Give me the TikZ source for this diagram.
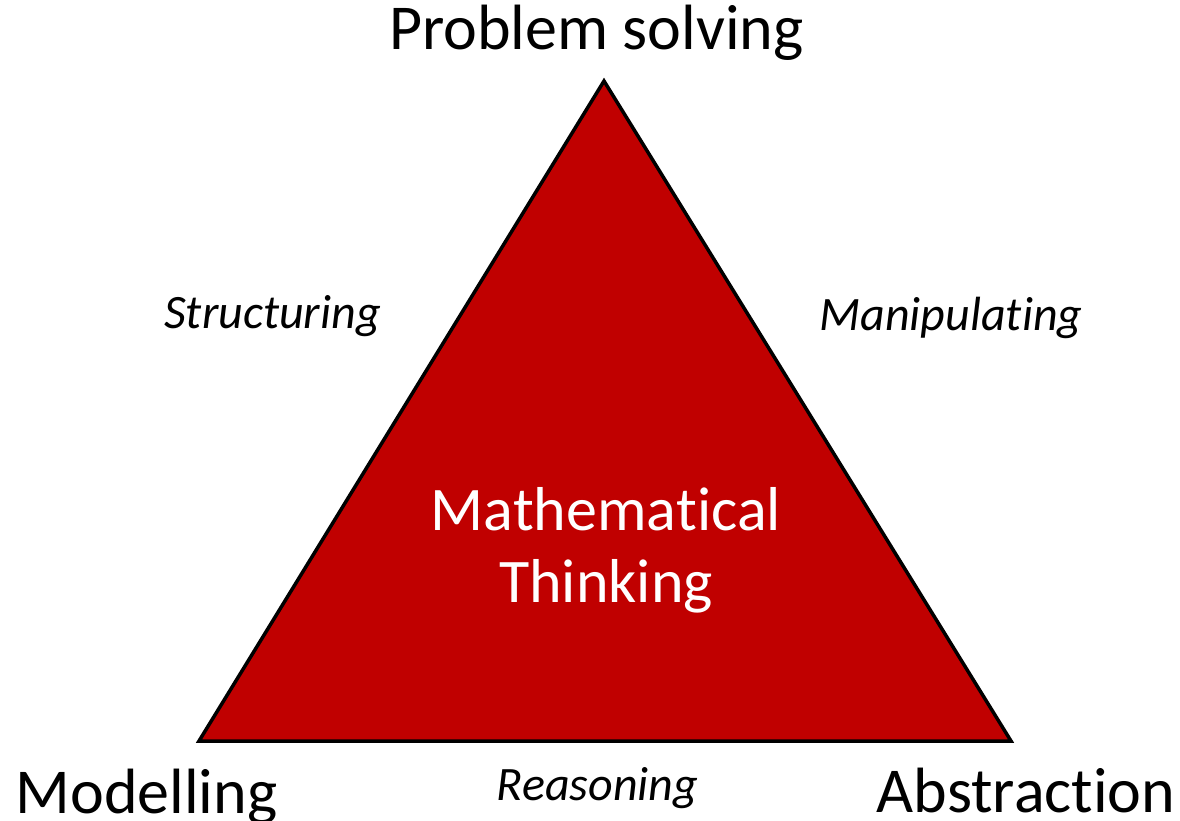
\documentclass[tikz,border=0pt]{standalone}
\usepackage{fontspec}
\setmainfont[Ligatures={NoCommon,NoRequired,NoContextual,NoRare},RawFeature={-clig}]{Carlito}
\definecolor{trired}{HTML}{C00000}
\begin{document}
\begin{tikzpicture}[x=1pt,y=-1pt,
  big/.style={anchor=base,inner sep=0pt,font=\fontsize{64}{72}\selectfont},
  mid/.style={anchor=base,inner sep=0pt,font=\fontsize{62}{72}\selectfont,text=white},
  lab/.style={anchor=base,inner sep=0pt,font=\fontsize{48}{56}\selectfont\itshape}]
\useasboundingbox (0,0) rectangle (1180,820);
\coordinate (top) at (604,81);
\coordinate (bl) at (199,741);
\coordinate (br) at (1011,741);
\draw[fill=trired,line width=3.5pt,line join=miter] (top) -- (bl) -- (br) -- cycle;
\node[big] (ps) at (596.5,49) {Problem solving};
\node[big] (mo) at (146.5,813) {Modelling};
\node[big] (ab) at (1026,812) {Abstraction};
\node[lab] (st) at (272.5,328) {Structuring};
\node[lab] (ma) at (951,330) {Manipula\kern0pt ting};
\node[lab] (re) at (597.5,800) {Reasoning};
\node[mid] (mt1) at (606,530) {Mathema\kern0pt tical};
\node[mid] (mt2) at (606,602) {Thinking};
\end{tikzpicture}
\end{document}
